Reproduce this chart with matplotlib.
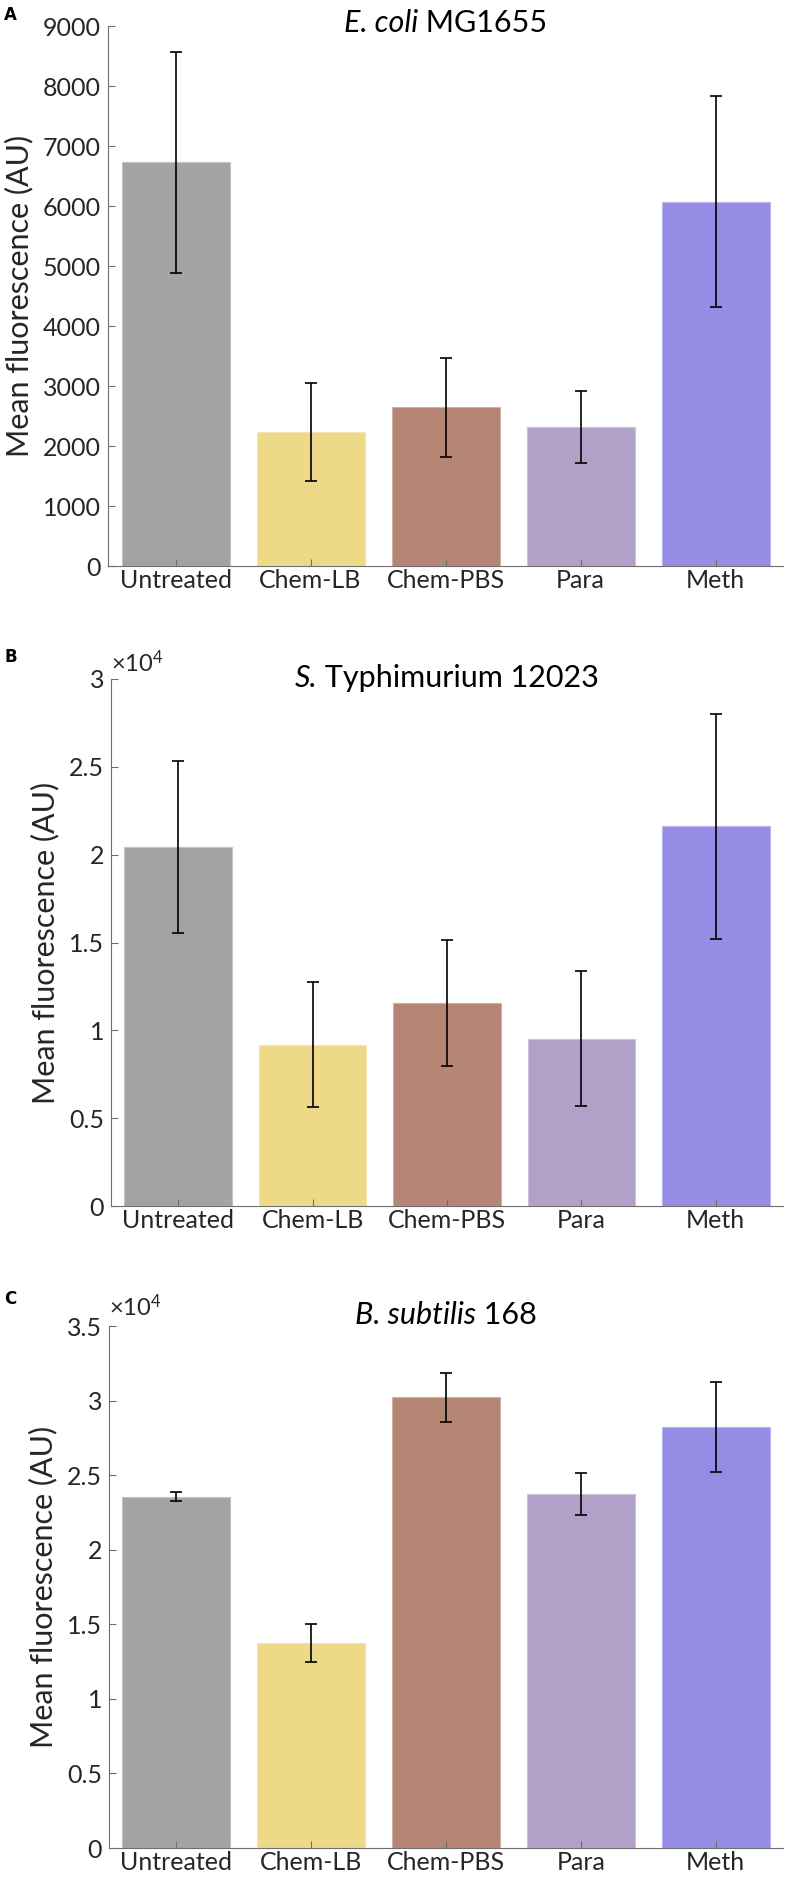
import matplotlib
matplotlib.use("Agg")
import matplotlib.pyplot as plt
import matplotlib.colors as mcolors
import numpy as np

# data
categories = ["Untreated", "Chem-LB", "Chem-PBS", "Para", "Meth"]
colors = ["#a3a3a3", "#edd987", "#b58673", "#b1a1c9", "#958ce6"]

ecoli_mean = [6725, 2235, 2650, 2320, 6070]
ecoli_err = [1835, 810, 825, 600, 1755]

styph_mean = [2.045e4, 0.918e4, 1.157e4, 0.952e4, 2.162e4]
styph_err = [0.49e4, 0.355e4, 0.36e4, 0.385e4, 0.64e4]

bsub_mean = [2.355e4, 1.374e4, 3.022e4, 2.374e4, 2.823e4]
bsub_err = [0.031e4, 0.127e4, 0.164e4, 0.143e4, 0.30e4]

font = "Lato"
axcol = "#262626"
spinecol = "#6e6e6e"

plt.rcParams["font.family"] = [font, "DejaVu Sans"]
plt.rcParams["mathtext.fontset"] = "custom"
plt.rcParams["mathtext.rm"] = font
plt.rcParams["mathtext.it"] = font + ":italic"

W, H = 789, 1879
fig = plt.figure(figsize=(W / 100, H / 100), dpi=100)
renderer = fig.canvas.get_renderer()


def px_axes(top, bottom, left, right=783):
    return fig.add_axes([left / W, 1 - bottom / H, (right - left) / W, (bottom - top) / H])


def lighter(c, f=0.35):
    r = np.array(mcolors.to_rgb(c))
    return tuple(r + (1 - r) * f)


def two_part_title(ax, ital, rest, y):
    # italic species name then upright strain, centred as one string
    t1 = ax.text(0, y, ital, transform=ax.transAxes, fontsize=22, fontstyle="italic",
                 va="baseline", ha="left", color="black")
    t2 = ax.text(0, y, " " + rest, transform=ax.transAxes, fontsize=22,
                 va="baseline", ha="left", color="black")
    w1 = t1.get_window_extent(renderer).width
    w2 = t2.get_window_extent(renderer).width
    axw = ax.get_window_extent(renderer).width
    x0 = 0.5 - (w1 + w2) / 2 / axw
    t1.set_x(x0)
    t2.set_x(x0 + w1 / axw)


def panel(ax, means, errs, ymax, yticks, ytlabels, title, title_y, mult, letter, letter_y):
    x = np.arange(1, len(categories) + 1)
    ax.bar(x, means, width=0.8, color=colors, edgecolor=[lighter(c) for c in colors],
           linewidth=0.8, zorder=1)
    ax.errorbar(x, means, yerr=errs, fmt="none", ecolor="black", elinewidth=1.2,
                capsize=4, capthick=1.2, zorder=3)
    ax.set_xlim(0.5, 5.5)
    ax.set_ylim(0, ymax)
    ax.set_xticks(x)
    ax.set_xticklabels(categories, fontsize=18, color=axcol)
    ax.set_yticks(yticks)
    ax.set_yticklabels(ytlabels, fontsize=18, color=axcol)
    ax.tick_params(direction="in", length=5, width=0.8, color=spinecol, labelcolor=axcol)
    ax.tick_params(axis="y", pad=5)
    ax.tick_params(axis="x", pad=2)
    for s in ["top", "right"]:
        ax.spines[s].set_visible(False)
    for s in ["left", "bottom"]:
        ax.spines[s].set_color(spinecol)
        ax.spines[s].set_linewidth(0.8)
    ax.set_ylabel("Mean fluorescence (AU)", fontsize=22, color=axcol, labelpad=7)
    two_part_title(ax, title[0], title[1], title_y)
    if mult:
        ax.text(0.0, 1 + mult, "\u00d710$^{4}$", transform=ax.transAxes, ha="left",
                va="center", fontsize=17, color=axcol)
    fig.text(4 / W, 1 - letter_y / H, letter, fontsize=12, fontweight="bold",
             fontfamily="DejaVu Sans", ha="left", va="baseline")


axA = px_axes(26, 566, 108)
panel(axA, ecoli_mean, ecoli_err, 9000, np.arange(0, 9001, 1000),
      [str(v) for v in range(0, 9001, 1000)],
      ("E. coli", "MG1655"), 0.9889, None, "A", 20)

axB = px_axes(679, 1206, 111)
panel(axB, styph_mean, styph_err, 3e4, np.arange(0, 3.01e4, 0.5e4),
      ["0", "0.5", "1", "1.5", "2", "2.5", "3"],
      ("S.", "Typhimurium 12023"), 0.9848, 16 / 527, "B", 662)

axC = px_axes(1326, 1848, 109)
panel(axC, bsub_mean, bsub_err, 3.5e4, np.arange(0, 3.51e4, 0.5e4),
      ["0", "0.5", "1", "1.5", "2", "2.5", "3", "3.5"],
      ("B. subtilis", "168"), 1.0038, 19 / 522, "C", 1304)

fig.savefig("out.png", dpi=100)
